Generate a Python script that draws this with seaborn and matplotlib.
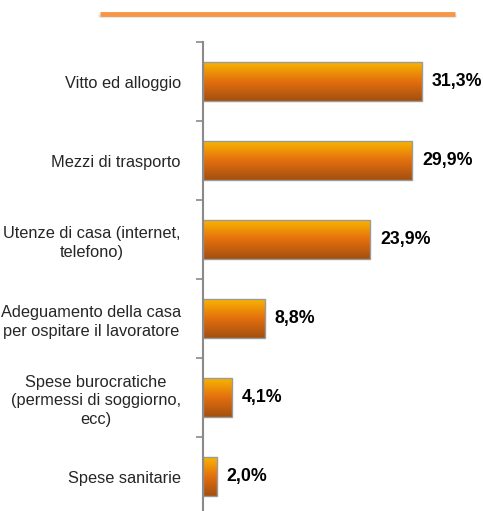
import numpy as np
import pandas as pd
import matplotlib
matplotlib.use("Agg")
import matplotlib.pyplot as plt
import seaborn as sns
from matplotlib.colors import LinearSegmentedColormap
from matplotlib.lines import Line2D

# dati
categorie = [
    "Vitto ed alloggio",
    "Mezzi di trasporto",
    "Utenze di casa (internet,\ntelefono)",
    "Adeguamento della casa\nper ospitare il lavoratore",
    "Spese burocratiche\n(permessi di soggiorno,\necc)",
    "Spese sanitarie",
]
valori = [31.3, 29.9, 23.9, 8.8, 4.1, 2.0]
etichette = ["31,3%", "29,9%", "23,9%", "8,8%", "4,1%", "2,0%"]

df = pd.DataFrame({"categoria": categorie, "valore": valori})

sns.set_style("white")
plt.rcParams["font.family"] = ["Liberation Sans", "DejaVu Sans"]

fig = plt.figure(figsize=(4.83, 5.11), dpi=100)
ax = fig.add_axes([203 / 483, -5 / 511, 1 - 203 / 483, 474 / 511])

sns.barplot(data=df, x="valore", y="categoria", ax=ax, width=0.5,
            color="#E07010", edgecolor="#9a9a9a", linewidth=1.0)

# riempimento sfumato delle barre
cmap = LinearSegmentedColormap.from_list("arancio", ["#F9B900", "#E4700E", "#A24F10"])
grad = np.linspace(0, 1, 256).reshape(-1, 1)
for p in ax.patches:
    x0, y0 = p.get_x(), p.get_y()
    w, h = p.get_width(), p.get_height()
    p.set_facecolor("none")
    im = ax.imshow(grad, cmap=cmap, aspect="auto", origin="upper",
                   extent=[x0, x0 + w, y0 + h, y0], zorder=p.get_zorder() - 0.1)
    im.set_clip_path(p)

for i, (v, t) in enumerate(zip(valori, etichette)):
    ax.text(v + 1.4, i, t, va="center", ha="left", fontsize=12.8,
            fontweight="bold", color="black")

ax.set_xlim(0, 40)
ax.set_ylim(5.5, -0.5)
ax.set_xlabel("")
ax.set_ylabel("")
ax.set_xticks([])

sns.despine(ax=ax, top=True, right=True, bottom=True, left=False)
ax.spines["left"].set_color("#8a8a8a")
ax.spines["left"].set_linewidth(1.5)

ax.set_yticks(range(len(categorie)), labels=categorie,
              multialignment="center", linespacing=1.3)
ax.set_yticks(np.arange(-0.5, 6, 1), minor=True)
ax.tick_params(axis="y", which="minor", length=5, width=1.2, color="#8a8a8a", left=True)
ax.tick_params(axis="y", which="major", length=0, pad=16, labelsize=11.8)

# linea arancione in alto
fig.add_artist(Line2D([100 / 483, 455 / 483], [1 - 16 / 511, 1 - 16 / 511],
                      color="#d9d9d9", linewidth=3, alpha=0.6))
fig.add_artist(Line2D([100 / 483, 455 / 483], [1 - 14 / 511, 1 - 14 / 511],
                      color="#F79646", linewidth=3.5, solid_capstyle="butt"))

fig.savefig("out.png", dpi=100)
